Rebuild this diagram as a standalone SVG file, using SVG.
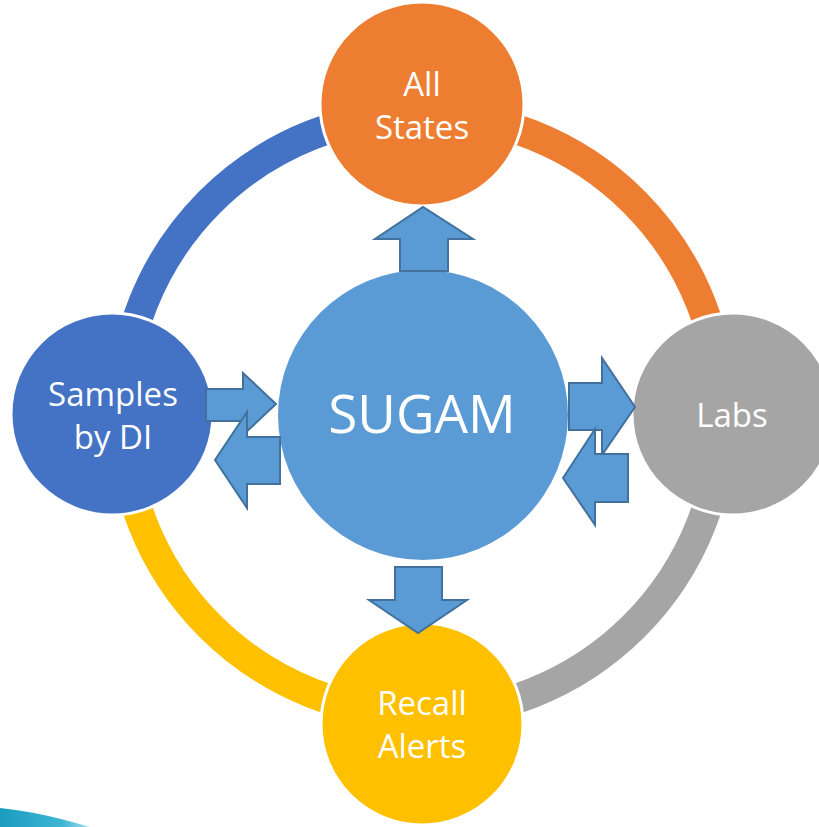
<svg xmlns="http://www.w3.org/2000/svg" width="819" height="827" viewBox="0 0 819 827">
<defs>
<style>
.ring{fill:none;stroke-width:30}
.node{stroke:#fff;stroke-width:3}
.lbl{fill:#fff;font-family:"Open Sans","Liberation Sans",sans-serif;font-size:33px;text-anchor:middle}
.arr{fill:#5B9BD5;stroke:#41719C;stroke-width:2;stroke-linejoin:miter}
</style>
<linearGradient id="sw" x1="0" y1="0" x2="1" y2="0">
<stop offset="0" stop-color="#1A9BBE"/>
<stop offset="0.7" stop-color="#3FB6D4"/>
<stop offset="1" stop-color="#A8E0EE"/>
</linearGradient>
</defs>
<rect width="819" height="827" fill="#fff"/>
<path d="M0,808 Q40,812 90,827 L0,827 Z" fill="url(#sw)"/>
<g id="connectors">
<path class="ring" stroke="#4472C4" d="M122,414 A300,300 0 0 1 422,114"/>
<path class="ring" stroke="#ED7D31" d="M422,114 A300,300 0 0 1 722,414"/>
<path class="ring" stroke="#A5A5A5" d="M722,414 A300,300 0 0 1 422,714"/>
<path class="ring" stroke="#FFC000" d="M422,714 A300,300 0 0 1 122,414"/>
</g>
<g id="node-top"><circle class="node" cx="422" cy="104" r="102" fill="#ED7D31"/>
<text class="lbl" x="422" y="96">All</text><text class="lbl" x="422" y="139">States</text></g>
<g id="node-left"><circle class="node" cx="112" cy="414" r="101" fill="#4472C4"/>
<text class="lbl" x="113" y="406">Samples</text><text class="lbl" x="113" y="449">by DI</text></g>
<g id="node-right"><circle class="node" cx="733" cy="414" r="101" fill="#A5A5A5"/>
<text class="lbl" x="732" y="427">Labs</text></g>
<g id="node-bottom"><circle class="node" cx="422" cy="724" r="101" fill="#FFC000"/>
<text class="lbl" x="422" y="715">Recall</text><text class="lbl" x="422" y="758">Alerts</text></g>
<g id="node-center"><circle cx="423" cy="415" r="145" fill="#5B9BD5"/>
<text class="lbl" x="422" y="433" style="font-size:53px">SUGAM</text></g>
<g id="arrows">
<polygon class="arr" points="400,271 448,271 448,239 473,239 423,207 375,239 400,239"/>
<polygon class="arr" points="395,567 442,567 442,600 467,600 418,633 369,600 395,600"/>
<polygon class="arr" points="206,389 243,389 243,373 276,404 243,435 243,421 206,421"/>
<polygon class="arr" points="280,437 247,437 247,412 215,460 247,508 247,484 280,484"/>
<polygon class="arr" points="569,383 602,383 602,358 635,407 602,455 602,430 569,430"/>
<polygon class="arr" points="628,454 595,454 595,429 563,478 595,525 595,502 628,502"/>
</g>
</svg>
